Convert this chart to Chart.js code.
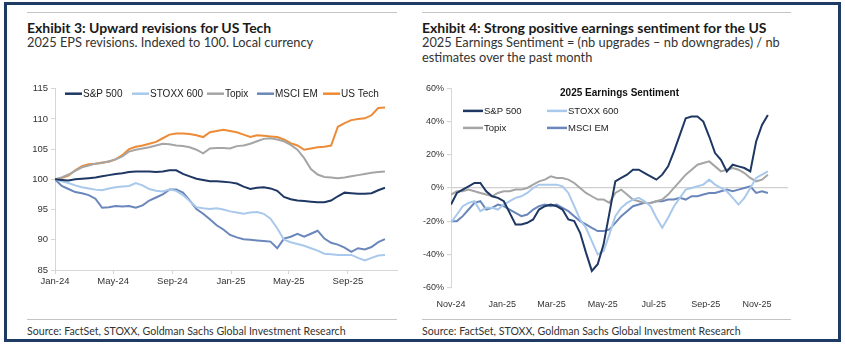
<!DOCTYPE html>
<html>
<head>
<meta charset="utf-8">
<script src="https://cdn.jsdelivr.net/npm/chart.js@4.4.1/dist/chart.umd.min.js"></script>
<style>
  html, body { margin: 0; padding: 0; }
  body { width: 845px; height: 345px; background: #fff; position: relative; overflow: hidden; font-family: Lato, "Open Sans", sans-serif; }
  .frame { position: absolute; left: 4px; top: 2px; width: 837px; height: 340px; box-sizing: border-box; border: 3px solid #1e3c63; }
  .rule { position: absolute; height: 0; border-top: 1.5px solid #c4c4c4; }
  .title { position: absolute; font-weight: 700; font-size: 14px; line-height: 16px; color: #1a1a1a; white-space: nowrap; }
  .sub { position: absolute; font-size: 12.8px; line-height: 14.5px; color: #333; white-space: nowrap; }
  .src { position: absolute; font-size: 10.6px; line-height: 13px; color: #333; white-space: nowrap; }
  canvas { position: absolute; }
</style>
</head>
<body>
<div class="frame"></div>

<div class="rule" style="left:27px; top:12px; width:370px;"></div>
<div class="rule" style="left:422px; top:12px; width:369px;"></div>
<div class="title" style="left:27px; top:20px;">Exhibit 3: Upward revisions for US Tech</div>
<div class="sub" style="left:27px; top:35px;">2025 EPS revisions. Indexed to 100. Local currency</div>
<div class="title" style="left:422px; top:20px;">Exhibit 4: Strong positive earnings sentiment for the US</div>
<div class="sub" style="left:422px; top:35px;">2025 Earnings Sentiment = (nb upgrades – nb downgrades) / nb<br>estimates over the past month</div>

<canvas id="eps" width="390" height="220" style="left:20px; top:80px;"></canvas>
<canvas id="sentiment" width="385" height="228" style="left:415px; top:80px;"></canvas>

<div class="rule" style="left:27px; top:319px; width:370px;"></div>
<div class="rule" style="left:422px; top:319px; width:369px;"></div>
<div class="src" style="left:27px; top:325px;">Source: FactSet, STOXX, Goldman Sachs Global Investment Research</div>
<div class="src" style="left:422px; top:325px;">Source: FactSet, STOXX, Goldman Sachs Global Investment Research</div>

<script>
// ---------- Exhibit 3: 2025 EPS revisions, indexed to 100 (fortnightly from 1 Jan 2024) ----------
const epsDays = Array.from({ length: 50 }, (_, i) => i * 14);
const epsTickDays = [0, 121, 244, 366, 486, 609];
const epsTickLabels = ['Jan-24', 'May-24', 'Sep-24', 'Jan-25', 'May-25', 'Sep-25'];

const epsSP500 = [100.0, 99.9, 99.8, 100.0, 100.1, 100.2, 100.3, 100.5, 100.7, 100.9,
  101.0, 101.2, 101.3, 101.3, 101.3, 101.2, 101.3, 101.5, 101.5, 100.9,
  100.5, 100.1, 99.9, 99.7, 99.7, 99.6, 99.5, 99.3, 98.8, 98.4,
  98.6, 98.7, 98.5, 98.1, 97.1, 96.7, 96.5, 96.4, 96.3, 96.2,
  96.2, 96.5, 97.2, 97.8, 97.7, 97.6, 97.6, 97.7, 98.2, 98.6];
const epsSTOXX600 = [100.0, 99.7, 99.4, 99.0, 98.7, 98.5, 98.3, 98.2, 98.5, 98.7,
  98.8, 98.9, 99.4, 99.0, 98.4, 98.1, 98.0, 98.3, 98.1, 97.4,
  96.4, 95.4, 95.2, 95.1, 95.2, 95.0, 94.7, 94.5, 94.3, 94.5,
  94.6, 94.3, 93.5, 91.9, 90.0, 89.6, 89.3, 89.0, 88.6, 88.2,
  87.7, 87.6, 87.5, 87.5, 87.5, 87.0, 86.6, 87.0, 87.4, 87.5];
const epsTopix = [100.0, 100.3, 100.8, 101.4, 102.0, 102.3, 102.6, 102.7, 103.0, 103.3,
  103.8, 104.6, 104.9, 105.1, 105.3, 105.6, 105.9, 105.8, 105.6, 105.5,
  105.3, 104.9, 104.3, 105.1, 105.2, 105.2, 105.1, 105.5, 105.6, 105.9,
  106.3, 106.7, 106.8, 106.6, 106.3, 105.7, 104.9, 103.5, 101.7, 100.8,
  100.4, 100.3, 100.2, 100.3, 100.5, 100.7, 100.9, 101.1, 101.2, 101.3];
const epsMSCIEM = [100.0, 98.9, 98.4, 97.9, 97.7, 97.4, 96.8, 95.3, 95.4, 95.6,
  95.5, 95.6, 95.3, 95.7, 96.5, 97.0, 97.5, 98.3, 98.3, 97.8,
  96.5, 95.1, 94.3, 93.4, 92.4, 91.7, 90.8, 90.4, 90.1, 90.0,
  89.9, 89.8, 89.7, 88.6, 90.2, 90.5, 91.0, 90.5, 91.0, 91.5,
  90.2, 89.5, 89.2, 88.7, 88.0, 88.6, 88.4, 88.8, 89.6, 90.1];
const epsUSTech = [100.0, 100.2, 100.6, 101.5, 102.2, 102.5, 102.6, 102.8, 102.9, 103.3,
  104.0, 105.0, 105.4, 105.6, 105.9, 106.2, 106.8, 107.4, 107.6, 107.6,
  107.5, 107.3, 107.0, 107.8, 108.0, 108.2, 108.0, 107.8, 107.4, 107.0,
  107.3, 107.2, 107.1, 107.0, 106.6, 106.0, 105.6, 104.9, 105.1, 105.3,
  105.4, 105.6, 108.7, 109.3, 109.8, 110.0, 110.1, 110.6, 111.8, 111.9];

// ---------- Exhibit 4: 2025 earnings sentiment, % (weekly from 1 Nov 2024) ----------
const sentDays = Array.from({ length: 55 }, (_, i) => i * 7);
const sentTickDays = [0, 61, 120, 181, 242, 304, 365];
const sentTickLabels = ['Nov-24', 'Jan-25', 'Mar-25', 'May-25', 'Jul-25', 'Sep-25', 'Nov-25'];

const sentSP500 = [-10, -3, -1, 1, 3, 3, -2, -5, -6, -8,
  -15, -22, -22, -21, -19, -13, -11, -10, -11, -13,
  -19, -20, -27, -39, -50, -46, -34, -15, 4, 6,
  8, 11, 11, 9, 7, 5, 8, 13, 22, 32,
  42, 43, 43, 40, 31, 21, 17, 10, 14, 13,
  12, 10, 28, 38, 44];
const sentSTOXX600 = [-21, -16, -11, -9, -8, -14, -12, -12, -13, -10,
  -8, -6, -5, -3, 0, 2, 2, 2, 2, 1,
  -3, -11, -19, -24, -32, -40, -38, -28, -17, -12,
  -9, -7, -6, -8, -11, -18, -24, -18, -11, -6,
  -1, 0, 1, 2, 5, 2, 0, -2, -6, -10,
  -6, 0, 6, 8, 10];
const sentTopix = [-4, -2, -2, -1, -2, -3, -4, -5, -3, -2,
  -2, -1, -1, 0, 2, 4, 5, 7, 6, 6,
  5, 3, 0, -3, -5, -7, -7, -9, -3, -1,
  -4, -7, -8, -9, -9, -8, -7, -4, 0, 4,
  8, 11, 14, 15, 16, 13, 10, 11, 12, 11,
  9, 6, 4, 5, 8];
const sentMSCIEM = [-20, -20, -17, -13, -9, -8, -13, -12, -10, -11,
  -13, -15, -17, -16, -13, -11, -10, -11, -10, -12,
  -14, -17, -20, -22, -24, -26, -26, -25, -21, -17,
  -14, -11, -10, -9, -9, -8, -8, -7, -7, -6,
  -7, -5, -5, -4, -3, -3, -2, -1, -2, -1,
  0, 1, -3, -2, -3];

const NAVY = '#1f3763';
const LIGHT = '#a9c9ec';
const GREY = '#a5a5a5';
const STEEL = '#6a86bb';
const ORANGE = '#ed8b36';

const pts = (days, vals) => days.map((d, i) => ({ x: d, y: vals[i] }));
const line = (label, color, days, vals) => ({
  label, data: pts(days, vals), borderColor: color, backgroundColor: color,
  borderWidth: 2, pointRadius: 0, tension: 0, fill: false
});

// Legend drawn inside the plot area: a short line swatch followed by the series name.
const inlineLegend = {
  id: 'inlineLegend',
  afterDraw(chart, args, opts) {
    const { ctx, chartArea } = chart;
    ctx.save();
    if (opts.title) {
      ctx.font = 'bold 10px "Liberation Sans", Arial, sans-serif';
      ctx.fillStyle = '#111';
      ctx.textAlign = 'center';
      ctx.textBaseline = 'middle';
      ctx.fillText(opts.title, (chartArea.left + chartArea.right) / 2, chartArea.top + opts.titleY);
    }
    ctx.font = opts.font;
    ctx.textAlign = 'left';
    ctx.textBaseline = 'middle';
    chart.data.datasets.forEach((ds, i) => {
      const x = chartArea.left + opts.positions[i][0];
      const y = chartArea.top + opts.positions[i][1];
      ctx.strokeStyle = ds.borderColor;
      ctx.lineWidth = 2.5;
      ctx.beginPath();
      ctx.moveTo(x, y);
      ctx.lineTo(x + opts.swatch, y);
      ctx.stroke();
      ctx.fillStyle = '#222';
      ctx.fillText(ds.label, x + opts.swatch + 1, y + 0.5);
    });
    ctx.restore();
  }
};

const tickFont = size => ({ family: '"Liberation Sans", Arial, sans-serif', size });
const AXIS = '#d6d6d6';

new Chart(document.getElementById('eps'), {
  type: 'line',
  data: {
    datasets: [
      line('S&P 500', NAVY, epsDays, epsSP500),
      line('STOXX 600', LIGHT, epsDays, epsSTOXX600),
      line('Topix', GREY, epsDays, epsTopix),
      line('MSCI EM', STEEL, epsDays, epsMSCIEM),
      line('US Tech', ORANGE, epsDays, epsUSTech)
    ]
  },
  plugins: [inlineLegend],
  options: {
    responsive: false,
    animation: false,
    devicePixelRatio: 1,
    layout: { padding: { top: 8, right: 13, left: 0, bottom: 0 } },
    plugins: {
      legend: { display: false },
      tooltip: { enabled: false },
      inlineLegend: {
        font: '10px "Liberation Sans", Arial, sans-serif',
        swatch: 17,
        positions: [[10, 5], [77, 5], [152, 5], [202, 5], [268, 5]]
      }
    },
    scales: {
      x: {
        type: 'linear', min: 0, max: 711,
        afterBuildTicks: s => { s.ticks = epsTickDays.map(v => ({ value: v })); },
        afterFit: s => { s.height = 30; },
        ticks: {
          autoSkip: false, maxRotation: 0, padding: 2, color: '#333', font: tickFont(9.5),
          callback: v => epsTickLabels[epsTickDays.indexOf(v)]
        },
        grid: { drawOnChartArea: false, tickLength: 4, tickColor: AXIS },
        border: { color: AXIS, width: 1 }
      },
      y: {
        min: 85, max: 115,
        afterFit: s => { s.width = 35; },
        ticks: { stepSize: 5, padding: 3, color: '#333', font: tickFont(9.5) },
        grid: { drawOnChartArea: false, tickLength: 4, tickColor: AXIS },
        border: { color: AXIS, width: 1 }
      }
    }
  }
});

new Chart(document.getElementById('sentiment'), {
  type: 'line',
  data: {
    datasets: [
      line('S&P 500', NAVY, sentDays, sentSP500),
      line('STOXX 600', LIGHT, sentDays, sentSTOXX600),
      line('Topix', GREY, sentDays, sentTopix),
      line('MSCI EM', STEEL, sentDays, sentMSCIEM)
    ]
  },
  plugins: [inlineLegend],
  options: {
    responsive: false,
    animation: false,
    devicePixelRatio: 1,
    layout: { padding: { top: 7.5, right: 12, left: 0, bottom: 0 } },
    plugins: {
      legend: { display: false },
      tooltip: { enabled: false },
      inlineLegend: {
        title: '2025 Earnings Sentiment',
        titleY: 4.5,
        font: '9.5px "Liberation Sans", Arial, sans-serif',
        swatch: 20,
        positions: [[12, 22.5], [96, 22.5], [12, 39.5], [96, 39.5]]
      }
    },
    scales: {
      x: {
        type: 'linear', min: 0, max: 402,
        afterBuildTicks: s => { s.ticks = sentTickDays.map(v => ({ value: v })); },
        afterFit: s => { s.height = 20.5; },
        ticks: {
          autoSkip: false, maxRotation: 0, padding: 4, color: '#333', font: tickFont(9),
          callback: v => sentTickLabels[sentTickDays.indexOf(v)]
        },
        grid: { display: false },
        border: { display: false }
      },
      y: {
        min: -60, max: 60,
        afterFit: s => { s.width = 36; },
        ticks: { stepSize: 20, padding: 3, color: '#333', font: tickFont(9), callback: v => v + '%' },
        grid: {
          tickLength: 4, tickColor: AXIS,
          color: c => (c.tick && c.tick.value === 0 ? '#d0d0d0' : 'rgba(0,0,0,0)'),
          lineWidth: 1.2
        },
        border: { color: AXIS, width: 1 }
      }
    }
  }
});
</script>
</body>
</html>
